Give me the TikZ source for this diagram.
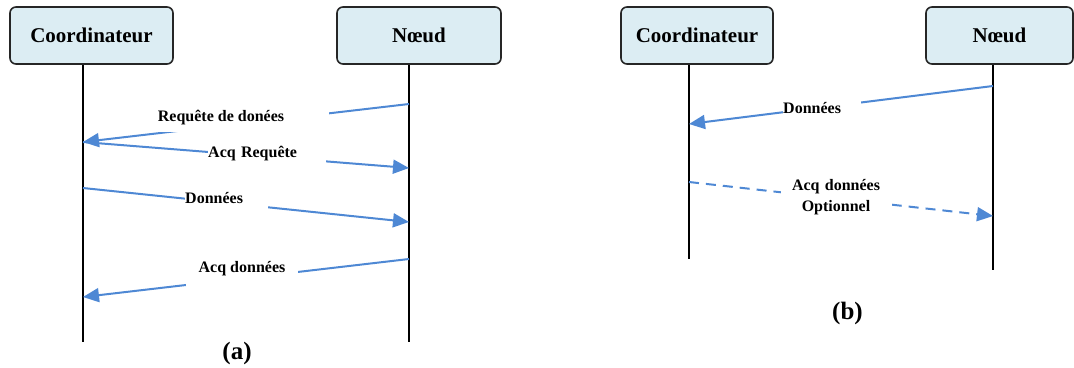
\documentclass[tikz,border=0pt]{standalone}
\usepackage{fontspec}
\setmainfont{Liberation Serif}
\usetikzlibrary{arrows.meta}

\definecolor{boxfill}{RGB}{220,237,243}
\definecolor{msgblue}{RGB}{78,136,212}

\begin{document}
\begin{tikzpicture}[x=1pt,y=-1pt,
  actor/.style={draw=black!85, line width=1.6pt, fill=boxfill, rounded corners=6pt,
    minimum height=57pt, inner sep=0pt, font=\fontsize{21}{25}\selectfont\bfseries},
  life/.style={line width=2pt, draw=black},
  msg/.style={draw=msgblue, line width=2pt, -{Triangle[length=16pt,width=14pt]}},
  optmsg/.style={msg, dash pattern=on 10pt off 7pt},
  lbl/.style={fill=white, font=\fontsize{16}{21}\selectfont\bfseries,
    text height=11pt, text depth=4pt, inner ysep=3pt},
  lblwide/.style={lbl, anchor=west, inner xsep=0pt, align=left},
  caption/.style={font=\fontsize{25}{30}\selectfont\bfseries}]
\useasboundingbox (0,0) rectangle (1074,367);

% ---------- (a) ----------
% lifelines
\coordinate (ca-top) at (83,64);   \coordinate (ca-bot) at (83,342);
\coordinate (na-top) at (409,64);  \coordinate (na-bot) at (409,342);
\draw[life] (ca-top) -- (ca-bot);
\draw[life] (na-top) -- (na-bot);

% message end points
\coordinate (a1s) at (409,104); \coordinate (a1e) at (83,142);
\coordinate (a2s) at (83,142);  \coordinate (a2e) at (409,168);
\coordinate (a3s) at (83,188);  \coordinate (a3e) at (409,222);
\coordinate (a4s) at (409,259); \coordinate (a4e) at (83,297);
\draw[msg] (a1s) -- (a1e);
\draw[msg] (a2s) -- (a2e);
\draw[msg] (a3s) -- (a3e);
\draw[msg] (a4s) -- (a4e);

% message labels
\node[lbl, inner xsep=45pt, inner ysep=6pt] (la1) at (221,118) {Requête de donées};
\node[lblwide, text width=118pt] (la2) at (208,154) {Acq Requête};
\node[lblwide, text width=83pt] (la3) at (185,200) {Données};
\node[lbl, inner xsep=13pt, inner ysep=9pt] (la4) at (242,269) {Acq données};

% actors
\node[actor, minimum width=163pt] (coorda) at (91.5,35.5) {Coordinateur};
\node[actor, minimum width=164pt] (noeuda) at (419,35.5) {Nœud};

\node[caption] (capa) at (237,353) {(a)};

% ---------- (b) ----------
\coordinate (cb-top) at (689,64);  \coordinate (cb-bot) at (689,259);
\coordinate (nb-top) at (993,64);  \coordinate (nb-bot) at (993,270);
\draw[life] (cb-top) -- (cb-bot);
\draw[life] (nb-top) -- (nb-bot);

\coordinate (b1s) at (993,86);  \coordinate (b1e) at (689,124);
\coordinate (b2s) at (689,182); \coordinate (b2e) at (993,216);
\draw[msg] (b1s) -- (b1e);
\draw[optmsg] (b2s) -- (b2e);

\node[lblwide, text width=78pt] (lb1) at (783,110) {Données};
\node[fill=white, font=\fontsize{16}{21}\selectfont\bfseries, inner xsep=8pt,
  inner ysep=3pt, text width=95pt, align=center] (lb2) at (836,197.5)
  {Acq données\\Optionnel};

\node[actor, minimum width=152pt] (coordb) at (697,35.5) {Coordinateur};
\node[actor, minimum width=147pt] (noeudb) at (999.5,35.5) {Nœud};

\node[caption] (capb) at (847.5,313) {(b)};
\end{tikzpicture}
\end{document}
